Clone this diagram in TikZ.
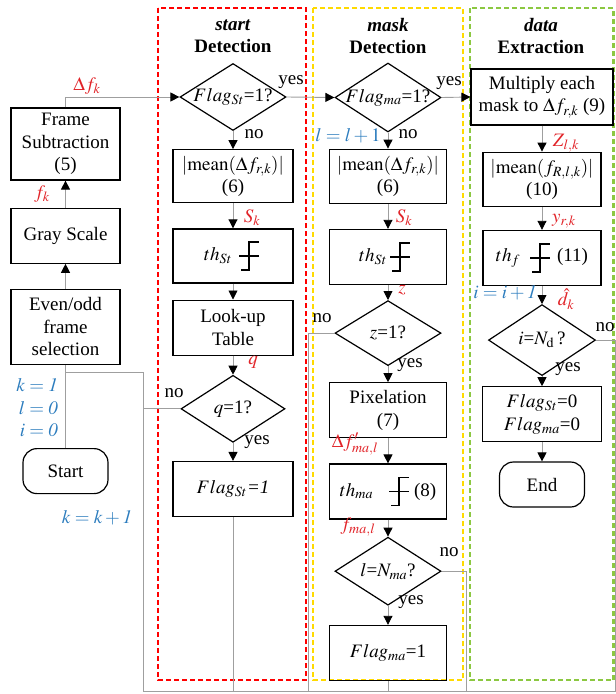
\documentclass[tikz,border=0pt]{standalone}
\usepackage{mathptmx}
\usepackage{fontspec}
\setmainfont{Liberation Serif}
\usepackage{xcolor}
\usepackage{tikz}
\usetikzlibrary{shapes.geometric, arrows.meta, positioning, calc}
\definecolor{labred}{RGB}{225,35,40}
\definecolor{labblue}{RGB}{45,125,190}
\definecolor{zoneyellow}{RGB}{255,218,0}
\definecolor{zonegreen}{RGB}{140,200,65}

\begin{document}
\begin{tikzpicture}[
		x=1pt, y=-1pt,
		every node/.style={font=\fontsize{19}{22.5}\selectfont},
		box/.style={draw, line width=1.2pt, minimum width=120pt, minimum height=55pt, align=center, inner sep=1pt},
		term/.style={box, rounded corners=14pt, minimum width=85pt, minimum height=45pt},
		decision/.style={diamond, draw, line width=1.2pt, aspect=1, inner sep=0pt, minimum width=106pt, minimum height=67pt},
		title/.style={font=\fontsize{19}{22}\selectfont\bfseries, align=center},
		zone/.style={line width=2.8pt, dash pattern=on 5pt off 3pt},
		line/.style={draw=gray!75, line width=0.9pt},
		arrow/.style={line, -{Triangle[length=9pt, width=9pt, color=black]}},
		sig/.style={text=labred, inner sep=0pt},
		var/.style={text=labblue, inner sep=0pt, align=right},
		ans/.style={inner sep=0pt},
		stepicon/.pic={
			\draw[line width=1.4pt] (-8,14) -- (0,14) -- (0,-14) -- (10,-14);
			\draw[line width=1.4pt] (-10,0) -- (10,0);
		}
		]
		\useasboundingbox (0,0) rectangle (616,694);
		
		% Zones
		\draw[zone, red] (158,8) rectangle (306,680);
		\draw[zone, zoneyellow] (313,8) rectangle (463,680);
		\draw[zone, zonegreen] (470,8) rectangle (613.5,680);
		\node[title] (tst) at (233,36) {\textit{start}\\Detection};
		\node[title] (tma) at (388,36) {\textit{mask}\\Detection};
		\node[title] (tda) at (541,36) {\textit{data}\\Extraction};
		
		% Nodes
		\node[box, minimum width=109pt, minimum height=72pt] (fsub) at (65.5,144) {Frame\\Subtraction\\(5)};
		\node[box, minimum width=109pt, below=27pt of fsub] (gray) {Gray Scale};
		\node[box, minimum width=109pt, minimum height=75pt, below=25pt of gray] (even) {Even/odd\\frame\\selection};
		\node[term, below=83pt of even] (start) {Start};
		
		\node[decision] (flagst) at (233,97) {\makebox[0pt]{$Flag_{St}$=1?}};
		\node[box, minimum height=53pt, below=18pt of flagst] (meanst) {$|\mathrm{mean}(\Delta f_{r,k})|$\\(6)};
		\node[box, minimum height=54pt, below=25pt of meanst] (thst) {$th_{St}$\hspace{30pt}};
		\node[box, below=16pt of thst] (lut) {Look-up\\Table};
		\node[decision, minimum width=104pt, below=19pt of lut] (qdec) {\makebox[0pt]{$q$=1?}};
		\node[box, below=18pt of qdec] (flagstset) {$Flag_{St}$\textit{=1}};
		
		\node[decision, minimum height=69pt] (flagma) at (388,97.5) {\makebox[0pt]{$Flag_{ma}$=1?}};
		\node[box, minimum width=117pt, minimum height=54pt, below=16pt of flagma] (meanma) {$|\mathrm{mean}(\Delta f_{r,k})|$\\(6)};
		\node[box, minimum width=117pt, below=25pt of meanma] (thmaone) {$th_{St}$\hspace{30pt}};
		\node[decision, minimum height=65pt, below=15pt of thmaone] (zdec) {\makebox[0pt]{$z$=1?}};
		\node[box, minimum width=117pt, below=16pt of zdec] (pix) {Pixelation\\(7)};
		\node[box, minimum width=117pt, below=25pt of pix] (thma) {$th_{ma}$\hspace{41pt}(8)};
		\node[decision, minimum height=68pt, below=17pt of thma] (ldec) {\makebox[0pt]{$l$=$N_{ma}$?}};
		\node[box, minimum width=117pt, below=19pt of ldec] (flagmaset) {$Flag_{ma}$=1};
		
		\node[box, minimum width=142pt, minimum height=56pt] (mult) at (542,97) {Multiply each\\mask to $\Delta f_{r,k}$ (9)};
		\node[box, minimum width=118pt, minimum height=54pt, below=26pt of mult] (meanf) {$|\mathrm{mean}(f_{R,l,k})|$\\(10)};
		\node[box, minimum width=118pt, below=23pt of meanf] (thf) {$th_{f}$\hspace{37pt}(11)};
		\node[decision, minimum width=107pt, minimum height=71pt, below=18pt of thf] (idec) {\makebox[0pt]{$i$=$N_{\mathrm{d}}$\,?}};
		\node[box, minimum width=119pt, below=10pt of idec] (flagreset) {$Flag_{St}$=0\\$Flag_{ma}$=0};
		\node[term, below=19pt of flagreset] (endn) {End};
		
		% Threshold steps
		\pic at ([xshift=16pt]thst.center) {stepicon};
		\pic at ([xshift=12pt]thmaone.center) {stepicon};
		\pic at ([xshift=11pt]thma.center) {stepicon};
		\pic at ([xshift=-2pt]thf.center) {stepicon};
		
		% Labels
		\node[sig] (dfk) at (87,86) {$\Delta f_k$};
		\node[sig] (fk) at (42,194) {$f_k$};
		\node[var, anchor=east] (init) at (58,408) {$k = \mathit{1}$\\$l = \mathit{0}$\\$i = \mathit{0}$};
		\node[var] (kinc) at (97,518) {$k = k + \mathit{1}$};
		\node[ans] (yst) at (291,82) {yes};
		\node[ans] (nst) at (254,134) {no};
		\node[sig] (skst) at (252,218) {$S_k$};
		\node[sig] (qsig) at (253,362) {$q$};
		\node[ans] (nq) at (174,393) {no};
		\node[ans] (yq) at (257,442) {yes};
		\node[ans] (yma) at (449,83) {yes};
		\node[var] (linc) at (348,136) {$l = l + 1$};
		\node[ans] (nma) at (408,134) {no};
		\node[sig] (skma) at (404,218) {$S_k$};
		\node[sig] (zsig) at (402,290) {$z$};
		\node[ans] (nz) at (322,318) {no};
		\node[ans] (yz) at (410,365) {yes};
		\node[sig] (dfma) at (355,444) {$\Delta f'_{ma,l}$};
		\node[sig] (fma) at (358,527) {$f_{ma,l}$};
		\node[ans] (nl) at (449,552) {no};
		\node[ans] (yl) at (411,602) {yes};
		\node[sig] (zlk) at (566,143) {$Z_{l,k}$};
		\node[sig] (yrk) at (564,221) {$y_{r,k}$};
		\node[var] (iinc) at (505,293) {$i = i + \mathit{1}$};
		\node[sig] (dhat) at (566,299) {$\hat{d}_k$};
		\node[ans] (ni) at (605,327) {no};
		\node[ans] (yi) at (568,369) {yes};
		
		% Loop back
		\coordinate (loopl) at (143,372);
		\coordinate (botl) at (143,691);
		\coordinate (botr) at (616,691);
		
		% Arrows
		\draw[line] (start.north) -- (even.south);
		\draw[arrow] (even.north) -- (gray.south);
		\draw[arrow] (gray.north) -- (fsub.south);
		\draw[arrow] (fsub.north) |- (flagst.west);
		\draw[arrow] (flagst.east) -- (flagma.west);
		\draw[arrow] (flagma.east) -- (mult.west);
		
		\draw[arrow] (flagst.south) -- (meanst.north);
		\draw[arrow] (meanst.south) -- (thst.north);
		\draw[arrow] (thst.south) -- (lut.north);
		\draw[arrow] (lut.south) -- (qdec.north);
		\draw[arrow] (qdec.south) -- (flagstset.north);
		
		\draw[arrow] (flagma.south) -- (meanma.north);
		\draw[arrow] (meanma.south) -- (thmaone.north);
		\draw[arrow] (thmaone.south) -- (zdec.north);
		\draw[arrow] (zdec.south) -- (pix.north);
		\draw[arrow] (pix.south) -- (thma.north);
		\draw[arrow] (thma.south) -- (ldec.north);
		\draw[arrow] (ldec.south) -- (flagmaset.north);
		
		\draw[arrow] (mult.south) -- (meanf.north);
		\draw[arrow] (meanf.south) -- (thf.north);
		\draw[arrow] (thf.south) -- (idec.north);
		\draw[arrow] (idec.south) -- (flagreset.north);
		\draw[arrow] (flagreset.south) -- (endn.north);
		
		\draw[line] (botr) -- (botl) -- (loopl) -- (loopl -| even.south);
		\draw[line] (qdec.west) -- (qdec.west -| loopl);
		\draw[line] (flagstset.south) -- (flagstset.south |- botl);
		\draw[line] (zdec.west) -| ([xshift=-26pt]zdec.west |- botl);
		\draw[line] (flagmaset.south) -- (flagmaset.south |- botl);
		\draw[line] (ldec.east) -| ([xshift=25pt]ldec.east |- botl);
		\draw[line] (idec.east) -| ([xshift=-0.5pt]botr);
		
	\end{tikzpicture}
\end{document}
